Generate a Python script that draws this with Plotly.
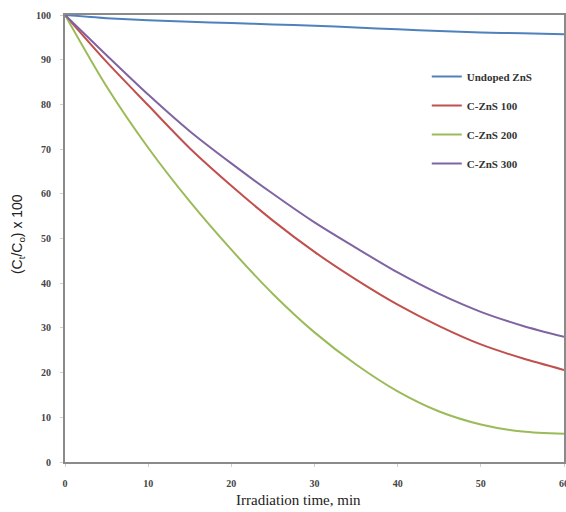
import plotly.graph_objects as go

# Irradiation time (min)
time_min = [0, 5, 10, 15, 20, 25, 30, 35, 40, 45, 50, 55, 60]

# Normalised concentration (Ct/Co) x 100 for each photocatalyst
undoped_zns = [100, 99.3, 98.8, 98.5, 98.2, 97.9, 97.6, 97.2, 96.8, 96.4, 96.1, 95.9, 95.7]
c_zns_100 = [100, 89.5, 79.8, 70.2, 61.8, 54.0, 47.0, 40.8, 35.2, 30.4, 26.3, 23.2, 20.6]
c_zns_200 = [100, 84.0, 70.3, 58.3, 47.5, 37.6, 29.0, 21.8, 15.8, 11.3, 8.4, 6.8, 6.3]
c_zns_300 = [100, 91.0, 82.2, 74.0, 66.8, 60.0, 53.6, 47.9, 42.4, 37.6, 33.6, 30.5, 28.0]

series_names = ["Undoped ZnS", "C-ZnS 100", "C-ZnS 200", "C-ZnS 300"]
series_values = [undoped_zns, c_zns_100, c_zns_200, c_zns_300]
series_colors = ["#4f81bd", "#c0504d", "#9bbb59", "#8064a2"]

x_ticks = [0, 10, 20, 30, 40, 50, 60]
y_ticks = [0, 10, 20, 30, 40, 50, 60, 70, 80, 90, 100]

fig = go.Figure()
for i, (name, vals, col) in enumerate(zip(series_names, series_values, series_colors)):
    fig.add_trace(go.Scatter(
        x=time_min, y=vals, name=name, mode="lines",
        line=dict(color=col, width=2, shape="spline", smoothing=0.8),
        legendgroup=f"g{i}",
    ))

tick_font = dict(family="Liberation Serif", size=10, color="#444444", weight="bold")
axis_common = dict(
    showgrid=False, zeroline=False, showline=True, linewidth=2,
    linecolor="#8a8a8a", mirror=True, ticks="outside", ticklen=3,
    tickcolor="#d0d0d0", tickfont=tick_font, ticklabeloverflow="allow",
    automargin=False,
)

fig.update_xaxes(range=[0, 60], tickvals=x_ticks, ticklabelstandoff=8, **axis_common)
fig.update_yaxes(range=[0, 100], tickvals=y_ticks, ticklabelstandoff=7, **axis_common)

fig.add_annotation(
    text="Irradiation time, min", xref="paper", yref="paper",
    x=0.467, y=-0.085, xanchor="center", yanchor="middle", showarrow=False,
    font=dict(family="Liberation Serif", size=15, color="#222222"),
)
fig.add_annotation(
    text="(C<sub>t</sub>/C<sub>o</sub>) x 100", xref="paper", yref="paper",
    x=-0.094, y=0.51, xanchor="center", yanchor="middle", showarrow=False,
    textangle=-90, font=dict(family="Liberation Sans", size=14, color="#222222"),
)

fig.update_layout(
    width=566, height=512,
    margin=dict(l=65, r=2, t=15, b=50),
    paper_bgcolor="white", plot_bgcolor="white",
    showlegend=True,
    legend=dict(
        x=0.725, y=0.895, xanchor="left", yanchor="top",
        bgcolor="rgba(0,0,0,0)", tracegroupgap=10, traceorder="grouped",
        font=dict(family="Liberation Serif", size=11, color="#333333", weight="bold"),
        itemwidth=30,
    ),
)

fig.write_html("out.html")
